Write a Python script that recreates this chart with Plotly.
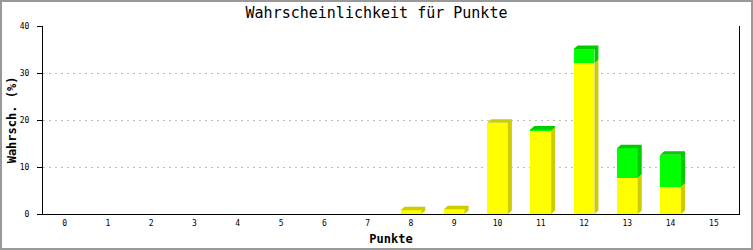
import plotly.graph_objects as go

categories = list(range(16))
tick_labels = [str(c) for c in categories]
yellow_vals = [0, 0, 0, 0, 0, 0, 0, 0, 0.8, 1.0, 19.4, 17.7, 32.1, 7.7, 5.8, 0]
green_vals = [0, 0, 0, 0, 0, 0, 0, 0, 0, 0, 0, 0.3, 3.0, 6.3, 6.8, 0]

W, H = 753, 250
ML, MR, MT, MB = 43, 14, 26, 36
YMAX = 40
X_RANGE = [-0.5, 15.58]
BAR_W = 0.48
# 3D depth in pixels converted into data units
plot_w = W - ML - MR
plot_h = H - MT - MB
DX = 4.0 / (plot_w / (X_RANGE[1] - X_RANGE[0]))
DY = 3.5 / (plot_h / YMAX)

Y_FRONT, Y_SHADE = "#FFFF00", "#CCCC00"
G_FRONT, G_SHADE = "#00FF00", "#00CC00"

fig = go.Figure()
fig.add_trace(go.Bar(x=categories, y=yellow_vals, width=BAR_W, marker=dict(color=Y_FRONT, line=dict(width=0)),
                     name="gelb", showlegend=False, hoverinfo="x+y"))
fig.add_trace(go.Bar(x=categories, y=green_vals, width=BAR_W, marker=dict(color=G_FRONT, line=dict(width=0)),
                     name="grün", showlegend=False, hoverinfo="x+y"))


def faces(segments, top_flags):
    xs, ys = [], []
    for (c, b, t), is_top in zip(segments, top_flags):
        xr = c + BAR_W / 2
        xl = c - BAR_W / 2
        # side face
        xs += [xr, xr + DX, xr + DX, xr, xr, None]
        ys += [b, b + DY, t + DY, t, b, None]
        if is_top:
            xs += [xl, xl + DX, xr + DX, xr, xl, None]
            ys += [t, t + DY, t + DY, t, t, None]
    return xs, ys


y_segs, y_top, g_segs, g_top = [], [], [], []
for c, yv, gv in zip(categories, yellow_vals, green_vals):
    if yv > 0:
        y_segs.append((c, 0, yv))
        y_top.append(gv <= 0)
    if gv > 0:
        g_segs.append((c, yv, yv + gv))
        g_top.append(True)

for segs, tops, col in [(y_segs, y_top, Y_SHADE), (g_segs, g_top, G_SHADE)]:
    xs, ys = faces(segs, tops)
    fig.add_trace(go.Scatter(x=xs, y=ys, mode="lines", fill="toself", fillcolor=col,
                             line=dict(width=0, color=col), showlegend=False, hoverinfo="skip"))

mono = "DejaVu Sans Mono"
fig.update_layout(
    width=W, height=H, autosize=False,
    margin=dict(l=ML, r=MR, t=MT, b=MB, pad=0, autoexpand=False),
    paper_bgcolor="white", plot_bgcolor="white",
    barmode="stack", bargap=0,
    showlegend=False,
    title=dict(text="Wahrscheinlichkeit für Punkte", x=0.5, xanchor="center", y=1 - 13 / H, yanchor="middle",
               font=dict(family=mono, size=15, color="black"), automargin=False),
    xaxis=dict(range=X_RANGE, tickmode="array", tickvals=categories, ticktext=tick_labels, automargin=False,
               showline=True, linecolor="black", linewidth=1, showgrid=False, zeroline=False,
               ticks="", tickfont=dict(family=mono, size=8, color="black"), ticklabelstandoff=1,
               title=dict(text="<b>Punkte</b>", font=dict(family=mono, size=12, color="black"), standoff=8)),
    yaxis=dict(range=[0, YMAX], tickvals=[0, 10, 20, 30, 40], showline=True, linecolor="black", linewidth=1,
               mirror=True, ticks="outside", ticklen=5, tickcolor="black", tickwidth=1, automargin=False,
               showgrid=True, gridcolor="#BBBBBB", griddash="2px,4px", gridwidth=1, zeroline=False,
               tickfont=dict(family=mono, size=8, color="black"), ticklabelstandoff=6,
               title=dict(text="<b>Wahrsch. (%)</b>", font=dict(family=mono, size=12, color="black"), standoff=0)),
)

# grey frame around the whole image
fig.add_shape(type="rect", xref="paper", yref="paper",
              x0=-(ML - 1) / plot_w, x1=1 + (MR - 1) / plot_w,
              y0=-(MB - 1) / plot_h, y1=1 + (MT - 1) / plot_h,
              line=dict(color="#999999", width=2), fillcolor="rgba(0,0,0,0)", layer="below")

fig.write_html("out.html")
